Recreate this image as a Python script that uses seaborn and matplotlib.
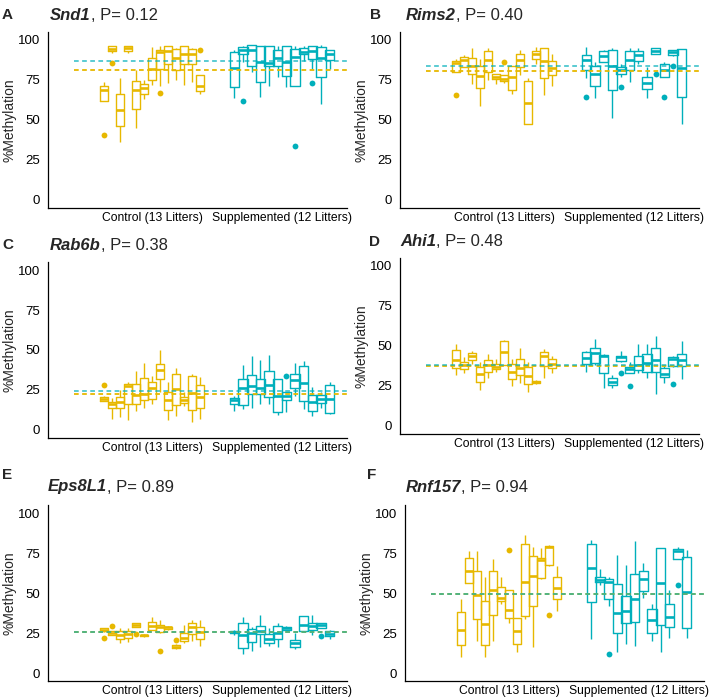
import numpy as np
import pandas as pd
import seaborn as sns
from matplotlib import pyplot as plt

sns.set_style('white')
plt.rcParams['font.family'] = ['Liberation Sans', 'DejaVu Sans']

GOLD = '#E7B800'
TEAL = '#00AFBB'
groups = ['Control', 'Supplemented']
group_labels = ['Control (13 Litters)', 'Supplemented (12 Litters)']

genes = ['Snd1', 'Rims2', 'Rab6b', 'Ahi1', 'Eps8L1', 'Rnf157']
p_values = ['0.12', '0.40', '0.38', '0.48', '0.89', '0.94']
panel_letters = ['A', 'B', 'C', 'D', 'E', 'F']

# group means (dashed lines)
mean_control = [81.4, 80.6, 22.6, 37.6, 25.5, 49.6]
mean_supplemented = [86.8, 83.5, 24.4, 38.3, 25.5, 49.6]

# per litter: [lower whisker, q1, median, q3, upper whisker]
snd1_control = [
    [62, 62, 69, 71, 74], [92, 93, 94.5, 96, 96], [36, 46, 56, 66, 76],
    [92, 93, 95, 96, 96], [45, 57, 68.5, 74.5, 81.5], [63, 66.5, 70, 72.5, 75],
    [72, 75, 82, 88.5, 95.5], [71, 82, 92.5, 93.5, 96], [73, 85, 93, 96, 96],
    [75, 81.5, 89, 94.5, 95], [72, 85, 91.5, 96, 96], [74, 85, 91.5, 94.5, 95],
    [66, 68, 71, 78, 78],
]
snd1_supplemented = [
    [63.5, 70.5, 82.5, 92.5, 94], [86, 91.5, 93.5, 95.5, 96], [80, 84, 94, 97, 97],
    [64.5, 73.5, 86, 96, 96], [71.5, 84, 85.5, 96, 96], [77, 83.5, 89, 93.5, 96],
    [70.5, 77.5, 86.5, 96, 96], [71.5, 71.5, 89.5, 94.5, 96], [87, 91, 92.5, 95, 96],
    [82, 88, 93, 96, 96], [60, 77, 88.5, 95.5, 97], [82, 87.5, 91, 93.5, 94],
]
snd1_out_control = [(1, 40.5), (2, 85.5), (8, 67), (13, 93.5)]
snd1_out_supplemented = [(2, 62), (8, 34), (10, 73)]

rims2_control = [
    [80, 80, 85.5, 87, 88], [83, 83, 87.5, 89.5, 90.5], [72.5, 78.5, 84, 88.5, 95],
    [59, 70, 77.5, 84, 88], [75, 80, 87.5, 93, 95], [72.5, 75.5, 77, 78.5, 79],
    [73, 74.5, 75.5, 78, 78], [66, 68.5, 77, 84, 84], [78, 83, 87.5, 91, 94],
    [47.5, 47.5, 60.5, 74.5, 76], [85, 88, 91, 93, 95.5], [65.5, 76, 87, 95, 95],
    [71.5, 78, 82.5, 87, 91.5],
]
rims2_supplemented = [
    [76, 81.5, 87.5, 90.5, 95.5], [64, 71, 78.5, 83.5, 86], [86, 86, 90, 93, 94],
    [51, 69, 84, 94, 95], [77, 78.5, 81, 83, 85], [74, 81, 87.5, 93, 95],
    [85, 87, 90.5, 93, 95], [64, 69.5, 73, 77, 83], [91, 91.5, 93, 95, 95],
    [77, 77, 81.5, 85, 86], [90, 90.5, 92.5, 93.5, 94], [47.5, 64.5, 82.5, 94.5, 94.5],
]
rims2_out_control = [(1, 65.5), (7, 86)]
rims2_out_supplemented = [(1, 64.5), (5, 70.5), (9, 78.5), (10, 64.5), (11, 84)]

rab6b_control = [
    [18, 18, 19.5, 20.5, 21], [7, 13.5, 16.5, 17.5, 20], [8, 13.5, 17.5, 20.5, 25],
    [6, 16, 27.5, 29, 30], [12, 16, 22, 28.5, 37], [14, 19, 22.5, 32.5, 42],
    [16, 19.5, 26, 30, 34], [24, 32, 37.5, 41.5, 50], [6.5, 12.5, 18.5, 23.5, 30],
    [9, 15.5, 25.5, 35, 39], [15, 17, 19, 20.5, 24], [5, 12.5, 23, 33.5, 35],
    [7, 14, 20.5, 28, 33],
]
rab6b_supplemented = [
    [12, 16.5, 18.5, 20, 21], [13, 15.5, 26, 32, 40.5], [14, 22.5, 27.5, 34.5, 46],
    [16, 22.5, 26, 32, 44], [16, 20.5, 28, 37, 47], [9.5, 11.5, 21, 32, 32],
    [11, 19, 21, 24, 24], [21, 26.5, 31, 35, 42], [13, 18, 29.5, 40, 43],
    [9, 12, 17.5, 22, 27], [14, 17, 19.5, 22, 24], [10, 10.5, 19.5, 28, 30],
]
rab6b_out_control = [(1, 28)]
rab6b_out_supplemented = [(7, 34)]

ahi1_control = [
    [32, 36, 41.5, 47.5, 51], [33, 35.5, 38, 40, 43], [39, 41, 43.5, 45.5, 47],
    [22.5, 27.5, 32.5, 37, 40], [30, 34, 38, 41, 45], [34, 35.5, 37, 38.5, 42],
    [38, 38, 46, 53, 54], [25, 29.5, 34, 38.5, 42], [27, 32, 36.5, 42, 49],
    [21, 26, 31.5, 37, 40], [26.5, 27, 27.5, 28, 28.5], [30, 37.5, 44, 46, 48],
    [33, 36, 39, 42, 44],
]
ahi1_supplemented = [
    [34, 38.5, 42.5, 46, 47], [38, 39.5, 45.5, 49, 54.5], [23.5, 33, 43.5, 44.5, 45],
    [24, 25.5, 27.5, 30, 32], [40, 40.5, 43, 44, 47], [33, 33, 35.5, 37, 40],
    [33, 35, 38, 43.5, 51], [30, 34, 39.5, 45, 51], [20, 33.5, 41.5, 48.5, 56],
    [27, 30.5, 32.5, 36.5, 38], [37, 37.5, 42, 43, 44], [29.5, 37.5, 41.5, 45, 53],
]
ahi1_out_control = []
ahi1_out_supplemented = [(5, 33), (6, 25), (11, 26)]

eps8l1_control = [
    [25.5, 26, 27, 28, 28], [23.5, 24, 25, 26, 26.5], [19, 21, 23.5, 26, 28],
    [19.5, 22, 24.5, 26, 28], [28.5, 29, 30, 31, 31.5], [22.5, 23, 23.5, 24, 24.5],
    [27, 27, 29.5, 32, 35], [25, 25.5, 29, 30, 33], [27, 27.5, 28.5, 29, 29.5],
    [15, 15.5, 16.5, 17.5, 18], [19, 20, 22, 25, 30], [20, 24.5, 28.5, 31.5, 33],
    [17, 21.5, 25.5, 29, 33],
]
eps8l1_supplemented = [
    [24, 25, 25.5, 26.5, 27], [12, 15.5, 24, 31, 35], [14, 19.5, 25, 27.5, 29],
    [16, 24.5, 26.5, 29.5, 36], [17, 18.5, 21, 24.5, 28], [16, 21, 25, 29.5, 31],
    [26.5, 27, 28, 29, 29.5], [15, 16, 18.5, 20.5, 25], [26, 26, 30, 35.5, 35.5],
    [24, 27, 29.5, 31.5, 36], [28, 28, 30, 31, 31.5], [21, 23, 24.5, 26, 27],
]
eps8l1_out_control = [(1, 22), (2, 29.5), (5, 24.5), (8, 13.5), (10, 20.5)]
eps8l1_out_supplemented = [(11, 23)]

rnf157_control = [
    [10, 17.5, 27, 38, 46], [56, 56, 63.5, 72, 76], [20, 34, 49, 63.5, 76],
    [10, 17.5, 30.5, 45, 60], [20, 36.5, 52, 64, 71], [43, 45, 47, 54, 60],
    [31, 34.5, 39.5, 52, 52], [13, 18, 26.5, 34.5, 34.5], [34, 35.5, 57, 80.5, 86.5],
    [16.5, 42, 60.5, 73, 79], [59, 59.5, 70.5, 72, 78], [67, 67.5, 78.5, 79.5, 80],
    [38.5, 46, 53, 60, 67],
]
rnf157_supplemented = [
    [21, 44.5, 65.5, 80.5, 83], [55, 57, 58, 60, 65], [42, 46.5, 57, 58.5, 60],
    [13, 25, 37.5, 55.5, 74], [18, 31, 39, 48, 67.5], [17, 32, 46.5, 62, 82.5],
    [47, 51, 59, 63.5, 69], [20, 25, 33, 40, 43], [13, 30, 56.5, 78, 78],
    [22, 28.5, 35, 43, 52], [71.5, 71.5, 76.5, 77.5, 79], [22, 28, 50.5, 72.5, 77],
]
rnf157_out_control = [(7, 77), (12, 36.5)]
rnf157_out_supplemented = [(3, 12), (11, 55)]

control_boxes = [snd1_control, rims2_control, rab6b_control, ahi1_control,
                 eps8l1_control, rnf157_control]
supplemented_boxes = [snd1_supplemented, rims2_supplemented, rab6b_supplemented,
                      ahi1_supplemented, eps8l1_supplemented, rnf157_supplemented]
control_outliers = [snd1_out_control, rims2_out_control, rab6b_out_control,
                    ahi1_out_control, eps8l1_out_control, rnf157_out_control]
supplemented_outliers = [snd1_out_supplemented, rims2_out_supplemented,
                         rab6b_out_supplemented, ahi1_out_supplemented,
                         eps8l1_out_supplemented, rnf157_out_supplemented]

# axes rectangles in pixels: left, bottom, width, height (figure 714x700)
axes_px = [(48, 492, 299, 176), (400, 492, 299, 176),
           (48, 262, 299, 176), (400, 266, 299, 176),
           (48, 19, 299, 176), (405, 19, 299, 176)]
title_px = [(50, 685), (406, 685), (50, 455), (400, 458), (48, 213), (406, 213)]
letter_px = [(2, 685), (370, 685), (2, 455), (369, 458), (2, 225), (367, 225)]

W, H = 714, 700
fig = plt.figure(figsize=(W / 100, H / 100), dpi=100)


def box_frame(group, boxes):
    rows = []
    for i, stats in enumerate(boxes, start=1):
        for v in stats:
            rows.append({'group': group, 'litter': f'{group[0]}{i}', 'value': v})
    return pd.DataFrame(rows)


def outlier_frame(group, outliers):
    return pd.DataFrame({'group': [group] * len(outliers),
                         'litter': [f'{group[0]}{i}' for i, _ in outliers],
                         'value': [v for _, v in outliers]})


for k in range(6):
    l, b, w, h = axes_px[k]
    ax = fig.add_axes([l / W, b / H, w / W, h / H])
    for group, boxes, outs, color in [('Control', control_boxes[k], control_outliers[k], GOLD),
                                      ('Supplemented', supplemented_boxes[k], supplemented_outliers[k], TEAL)]:
        litters = [f'{group[0]}{i}' for i in range(1, len(boxes) + 1)]
        pal = {lit: color for lit in litters}
        sns.boxplot(data=box_frame(group, boxes), x='group', y='value', hue='litter',
                    order=groups, hue_order=litters, palette=pal, fill=False,
                    whis=(0, 100), linewidth=1.0, gap=-0.1, legend=False,
                    showcaps=False, medianprops={'linewidth': 1.9}, ax=ax)
        if outs:
            sns.stripplot(data=outlier_frame(group, outs), x='group', y='value', hue='litter',
                          order=groups, hue_order=litters, palette=pal, dodge=True,
                          jitter=False, size=4.2, linewidth=0, legend=False, ax=ax)
    ax.hlines(mean_control[k], -0.6, 1.5, colors=GOLD, linewidth=1.3,
              linestyles=(0, (2.6, 1.9)), zorder=5)
    ax.hlines(mean_supplemented[k], -0.6, 1.5, colors=TEAL, linewidth=1.3,
              linestyles=(0, (2.6, 1.9)), alpha=0.7, zorder=6)

    ax.set_xlim(-0.8, 1.5)
    ax.set_ylim(-5, 105)
    ax.set_yticks([0, 25, 50, 75, 100])
    ax.set_xticks([0, 1])
    ax.set_xticklabels(group_labels, fontsize=8.7)
    ax.tick_params(axis='x', length=0, pad=3, colors='black')
    ax.tick_params(axis='y', length=3.5, width=0.8, labelsize=9.5, pad=2, colors='black')
    ax.set_xlabel('')
    ax.set_ylabel('%Methylation', fontsize=10, labelpad=1)
    sns.despine(ax=ax)
    for s in ['left', 'bottom']:
        ax.spines[s].set_color('black')
        ax.spines[s].set_linewidth(0.9)
    ax.grid(False)

    tx, ty = title_px[k]
    t = fig.text(tx / W, ty / H, genes[k], fontsize=12, fontweight='bold',
                 fontstyle='italic', va='center', ha='left')
    ax.annotate(f', P= {p_values[k]}', xy=(1, 0), xycoords=t, fontsize=12,
                va='bottom', ha='left')
    lx, ly = letter_px[k]
    fig.text(lx / W, ly / H, panel_letters[k], fontsize=11, fontweight='bold',
             va='center', ha='left')

plt.savefig('out.png', dpi=100)
